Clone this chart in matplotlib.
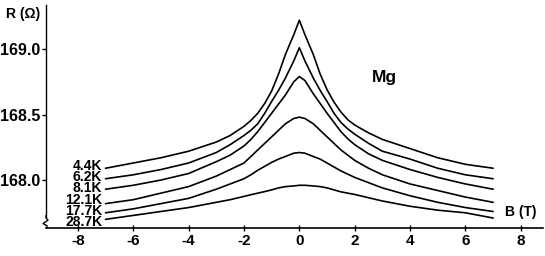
import matplotlib
matplotlib.use("Agg")
import matplotlib.pyplot as plt
from matplotlib.lines import Line2D

# ---- data ----
B = [-7, -6, -5, -4, -3, -2.5, -2, -1.75, -1.5, -1.25, -1, -0.75, -0.5, -0.2, 0,
     0.2, 0.5, 0.75, 1, 1.25, 1.5, 1.75, 2, 2.5, 3, 4, 5, 6, 7]
temps = ["4.4K", "6.2K", "8.1K", "12.1K", "17.7K", "28.7K"]
R_44 = [168.09, 168.13, 168.17, 168.22, 168.29, 168.34, 168.41, 168.455, 168.51, 168.585, 168.68, 168.81,
        168.96, 169.11, 169.22,
        169.11, 168.96, 168.81, 168.69, 168.595, 168.52, 168.46, 168.42, 168.36, 168.31, 168.24, 168.17,
        168.12, 168.09]
R_62 = [168.01, 168.04, 168.08, 168.13, 168.21, 168.27, 168.34, 168.38, 168.43, 168.51, 168.60, 168.685,
        168.78, 168.91, 169.01,
        168.91, 168.78, 168.685, 168.60, 168.51, 168.44, 168.39, 168.35, 168.28, 168.22, 168.16, 168.09,
        168.04, 168.01]
R_81 = [167.93, 167.96, 168.00, 168.05, 168.14, 168.19, 168.26, 168.31, 168.37, 168.44, 168.51, 168.58,
        168.65, 168.75, 168.79,
        168.76, 168.66, 168.585, 168.51, 168.44, 168.37, 168.315, 168.27, 168.20, 168.15, 168.08, 168.02,
        167.97, 167.93]
R_121 = [167.82, 167.85, 167.90, 167.95, 168.03, 168.08, 168.13, 168.18, 168.23, 168.28, 168.33, 168.38,
         168.43, 168.47, 168.48,
         168.47, 168.43, 168.38, 168.33, 168.28, 168.23, 168.19, 168.15, 168.09, 168.04, 167.97, 167.92,
         167.87, 167.83]
R_177 = [167.75, 167.78, 167.82, 167.86, 167.93, 167.97, 168.01, 168.04, 168.075, 168.105, 168.135, 168.16,
         168.18, 168.205, 168.21,
         168.205, 168.18, 168.16, 168.13, 168.10, 168.07, 168.045, 168.02, 167.98, 167.94, 167.88, 167.83,
         167.79, 167.76]
R_287 = [167.70, 167.73, 167.76, 167.79, 167.83, 167.85, 167.875, 167.888, 167.90, 167.912, 167.925, 167.94,
         167.95, 167.955, 167.96,
         167.96, 167.955, 167.95, 167.94, 167.925, 167.91, 167.90, 167.89, 167.865, 167.84, 167.80, 167.77,
         167.75, 167.71]
series = [R_44, R_62, R_81, R_121, R_177, R_287]
xticks = [-8, -6, -4, -2, 0, 2, 4, 6, 8]
yticks = [168.0, 168.5, 169.0]

# ---- figure ----
fig = plt.figure(figsize=(5.45, 2.56), dpi=100)
ax = fig.add_axes([46/545, 1-228/256, (543-46)/545, (228-5)/256])
FONT = ["Liberation Sans", "DejaVu Sans"]

for R in series:
    ax.plot(B, R, color="black", lw=1.2, solid_capstyle="round", solid_joinstyle="round")

ax.set_xlim(-9.15, 8.8)
ax.set_ylim(167.634, 169.336)
ax.set_xticks(xticks)
ax.set_xticklabels([f"{t:d}" for t in xticks], fontsize=11, fontweight="bold", family=FONT)
ax.set_yticks(yticks)
ax.set_yticklabels([f"{t:.1f}" for t in yticks], fontsize=11.5, fontweight="bold", family=FONT)
ax.tick_params(axis="x", direction="inout", length=5, width=1, pad=2)
ax.tick_params(axis="y", direction="out", length=3, width=1, pad=1)
for s in ["top", "right"]:
    ax.spines[s].set_visible(False)
ax.spines["left"].set_linewidth(1.0)
ax.spines["bottom"].set_linewidth(1.2)
ax.spines["left"].set_bounds(167.72, 169.336)

# axis break zigzag on y axis
zx = [0, 0, 0.004, -0.006, 0.002, 0.002]
zy = [0.055, 0.045, 0.035, 0.02, 0.01, 0.0]
ax.add_line(Line2D(zx, zy, transform=ax.transAxes, color="black", lw=1.0, clip_on=False))

# texts
fig.text(6/545, 1-14/256, "R (Ω)", fontsize=10, fontweight="bold", family=FONT, va="center", ha="left")
fig.text(521/545, 1-212/256, "B (T)", fontsize=10, fontweight="bold", family=FONT, va="center", ha="center")
ax.text(3.06, 168.78, "Mg", fontsize=12.5, fontweight="bold", family=FONT, ha="center", va="center")

y0 = 168.107
dy = 0.0855
for i, t in enumerate(temps):
    ax.text(-7.12, y0 - i*dy, t, fontsize=10, fontweight="bold", family=FONT,
            ha="right", va="center", linespacing=1.0)

fig.savefig("out.png", dpi=100)
